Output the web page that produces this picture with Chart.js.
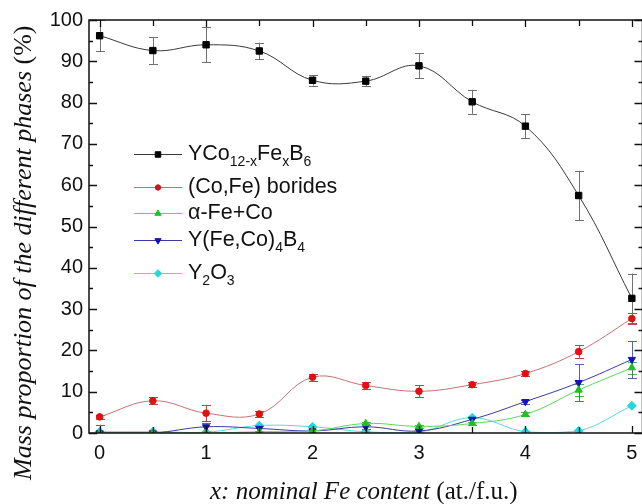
<!DOCTYPE html>
<html>
<head>
<meta charset="utf-8">
<script src="https://cdn.jsdelivr.net/npm/chart.js@4/dist/chart.umd.min.js"></script>
<style>
  html, body { margin: 0; padding: 0; background: #fff; overflow: hidden; }
  #wrap { width: 648px; height: 504px; }
</style>
</head>
<body>
<div id="wrap"><canvas id="c" width="648" height="504"></canvas></div>
<script>
// Nominal Fe content x (at./f.u.)
const feContent = [0, 0.5, 1, 1.5, 2, 2.5, 3, 3.5, 4, 4.5, 5];

// Mass proportion (%) of each phase, with error bars
const yCoFeB6     = [96.2, 92.6, 94.0, 92.5, 85.4, 85.2, 88.9, 80.2, 74.3, 57.5, 32.6];
const yCoFeB6Err  = [3.8, 3.2, 4.2, 2.0, 1.3, 1.3, 3.0, 2.9, 2.9, 6.0, 6.0];
const borides     = [3.9, 7.8, 4.8, 4.6, 13.5, 11.5, 10.1, 11.7, 14.4, 19.7, 27.7];
const boridesErr  = [0.4, 0.8, 1.9, 0.8, 0.8, 0.8, 1.5, 0.6, 0.7, 1.5, 1.4];
const alphaFeCo   = [0, 0, 0, 0.3, 0.5, 2.3, 1.6, 2.3, 4.5, 10.4, 15.8];
const alphaErr    = [0, 0, 0, 0, 0, 0.4, 0.4, 0.4, 0.5, 1.5, 1.5];
const yFeCo4B4    = [0, 0, 1.5, 1.1, 0.5, 1.5, 0.5, 3.3, 7.6, 12.2, 17.8];
const yFeCo4B4Err = [2.0, 0, 1.0, 0.5, 0, 0.5, 0, 0, 0.5, 4.5, 4.5];
const y2o3        = [0.3, 0.3, 0.2, 1.8, 1.5, 0.3, 0.2, 3.7, 0.3, 0.5, 6.6];
const y2o3Err     = [0, 0, 0, 0, 0, 0, 0, 0, 0, 0, 0];

// Axis tick labels
const xTickValues = [0, 1, 2, 3, 4, 5];
const yTickValues = [0, 10, 20, 30, 40, 50, 60, 70, 80, 90, 100];

// Legend labels as runs of normal / subscript text
const legendLabels = [
  [['YCo', 0], ['12-x', 1], ['Fe', 0], ['x', 1], ['B', 0], ['6', 1]],
  [['(Co,Fe) borides', 0]],
  [['\u03B1-Fe+Co', 0]],
  [['Y(Fe,Co)', 0], ['4', 1], ['B', 0], ['4', 1]],
  [['Y', 0], ['2', 1], ['O', 0], ['3', 1]]
];

const toPoints = ys => feContent.map((x, i) => ({ x: x, y: ys[i] }));

const seriesDefs = [
  { data: yCoFeB6, err: yCoFeB6Err, line: '#3a3a3a', fill: '#000000', errColor: '#707070', style: 'rect', radius: 4.5, rot: 0 },
  { data: borides, err: boridesErr, line: '#c87070', fill: '#e01010', errColor: '#b04848', style: 'circle', radius: 3.3, rot: 0 },
  { data: alphaFeCo, err: alphaErr, line: '#5ad85a', fill: '#20c020', errColor: '#50b050', style: 'triangle', radius: 4.2, rot: 0 },
  { data: yFeCo4B4, err: yFeCo4B4Err, line: '#3a3aa0', fill: '#1414b4', errColor: '#5a64a8', style: 'triangle', radius: 4.2, rot: 180 },
  { data: y2o3, err: y2o3Err, line: '#5ad8d8', fill: '#20d8e0', errColor: '#40c0c8', style: 'rectRot', radius: 4.4, rot: 0 }
];

const datasets = seriesDefs.map(s => ({
  data: toPoints(s.data),
  errors: s.err,
  errColor: s.errColor,
  showLine: true,
  borderColor: s.line,
  borderWidth: 1,
  tension: 0.4,
  pointStyle: s.style,
  pointRotation: s.rot,
  pointRadius: s.radius,
  pointHoverRadius: s.radius,
  pointBackgroundColor: s.fill,
  pointBorderColor: s.fill,
  pointBorderWidth: 1
}));

// Vertical error bars with caps, drawn under the markers
const errorBars = {
  id: 'errorBars',
  beforeDatasetsDraw(chart) {
    const { ctx, chartArea: a, scales: { x, y } } = chart;
    ctx.save();
    ctx.beginPath();
    ctx.rect(a.left, a.top, a.right - a.left, a.bottom - a.top);
    ctx.clip();
    chart.data.datasets.forEach(ds => {
      ctx.strokeStyle = ds.errColor;
      ctx.lineWidth = 1;
      ds.data.forEach((p, i) => {
        const e = ds.errors[i];
        if (!e) return;
        const px = Math.round(x.getPixelForValue(p.x)) + 0.5;
        const top = y.getPixelForValue(p.y + e);
        const bot = y.getPixelForValue(p.y - e);
        ctx.beginPath();
        ctx.moveTo(px, top); ctx.lineTo(px, bot);
        ctx.moveTo(px - 4.5, Math.round(top) + 0.5); ctx.lineTo(px + 4.5, Math.round(top) + 0.5);
        ctx.moveTo(px - 4.5, Math.round(bot) + 0.5); ctx.lineTo(px + 4.5, Math.round(bot) + 0.5);
        ctx.stroke();
      });
    });
    ctx.restore();
  }
};

function drawRuns(ctx, runs, x, y, size, subSize) {
  let cx = x;
  runs.forEach(([t, sub]) => {
    ctx.font = (sub ? subSize : size) + 'px "Liberation Sans", Arial, sans-serif';
    ctx.fillText(t, cx, sub ? y + 8 : y);
    cx += ctx.measureText(t).width;
  });
}

// Frame, inward ticks on all four sides, legend and axis titles
const frame = {
  id: 'frame',
  afterDraw(chart) {
    const { ctx, chartArea: a, scales: { x, y } } = chart;
    ctx.save();
    ctx.strokeStyle = '#111';
    ctx.lineWidth = 1.5;
    ctx.strokeRect(a.left, a.top, a.right - a.left, a.bottom - a.top);

    ctx.lineWidth = 1.3;
    ctx.beginPath();
    for (let v = 0; v <= 100; v += 5) {
      const py = Math.round(y.getPixelForValue(v)) + 0.5;
      const len = v % 10 === 0 ? 8 : 4;
      ctx.moveTo(a.left, py); ctx.lineTo(a.left + len, py);
      ctx.moveTo(a.right, py); ctx.lineTo(a.right - len, py);
    }
    for (let v = 0; v <= 5; v += 0.5) {
      const px = Math.round(x.getPixelForValue(v)) + 0.5;
      const len = Number.isInteger(v) ? 7 : 6;
      ctx.moveTo(px, a.top); ctx.lineTo(px, a.top + len);
      ctx.moveTo(px, a.bottom); ctx.lineTo(px, a.bottom - len);
    }
    ctx.stroke();

    // Legend
    const rowsY = [154, 187, 213, 240, 273];
    ctx.textBaseline = 'middle';
    chart.data.datasets.forEach((ds, i) => {
      const ry = rowsY[i];
      ctx.strokeStyle = ds.borderColor;
      ctx.lineWidth = 1;
      ctx.beginPath();
      ctx.moveTo(134, ry + 0.5); ctx.lineTo(182, ry + 0.5);
      ctx.stroke();
      ctx.fillStyle = ds.pointBackgroundColor;
      ctx.strokeStyle = ds.pointBorderColor;
      Chart.helpers.drawPoint(ctx, {
        pointStyle: ds.pointStyle, rotation: ds.pointRotation,
        radius: ds.pointRadius - 0.6, borderWidth: 1
      }, 158, ry + 0.5);
      ctx.fillStyle = '#111';
      drawRuns(ctx, legendLabels[i], 188, ry, 21.5, 14);
    });

    // Axis titles
    ctx.fillStyle = '#111';
    ctx.textBaseline = 'alphabetic';
    const serif = '"Liberation Serif", "Times New Roman", serif';

    ctx.font = 'italic 25px ' + serif;
    const xt1 = 'x: nominal Fe content';
    let tx = 210;
    ctx.fillText(xt1, tx, 499);
    tx += ctx.measureText(xt1).width;
    ctx.font = '25px ' + serif;
    ctx.fillText(' (at./f.u.)', tx, 499);

    ctx.translate(31, 480);
    ctx.rotate(-Math.PI / 2);
    ctx.font = 'italic 26px ' + serif;
    const yt1 = 'Mass proportion of the different phases';
    ctx.fillText(yt1, 0, 0);
    const w = ctx.measureText(yt1).width;
    ctx.font = '26px ' + serif;
    ctx.fillText(' (%)', w, 0);
    ctx.restore();
  }
};

new Chart(document.getElementById('c'), {
  type: 'scatter',
  data: { datasets: datasets },
  options: {
    responsive: false,
    animation: false,
    devicePixelRatio: 1,
    layout: { padding: { top: 20, right: 3, left: 0, bottom: 0 } },
    plugins: { legend: { display: false }, tooltip: { enabled: false } },
    scales: {
      x: {
        type: 'linear', min: -0.1, max: 5.1,
        grid: { display: false, drawTicks: false },
        border: { display: false },
        afterFit: s => { s.height = 71; },
        afterBuildTicks: s => { s.ticks = xTickValues.map(v => ({ value: v })); },
        ticks: {
          padding: 8, color: '#111',
          font: { family: '"Liberation Sans", Arial, sans-serif', size: 20 },
          maxRotation: 0, autoSkip: false
        }
      },
      y: {
        type: 'linear', min: 0, max: 100,
        grid: { display: false, drawTicks: false },
        border: { display: false },
        afterFit: s => { s.width = 89; },
        afterBuildTicks: s => { s.ticks = yTickValues.map(v => ({ value: v })); },
        ticks: {
          padding: 6, color: '#111',
          font: { family: '"Liberation Sans", Arial, sans-serif', size: 20 }
        }
      }
    }
  },
  plugins: [errorBars, frame]
});
</script>
</body>
</html>
